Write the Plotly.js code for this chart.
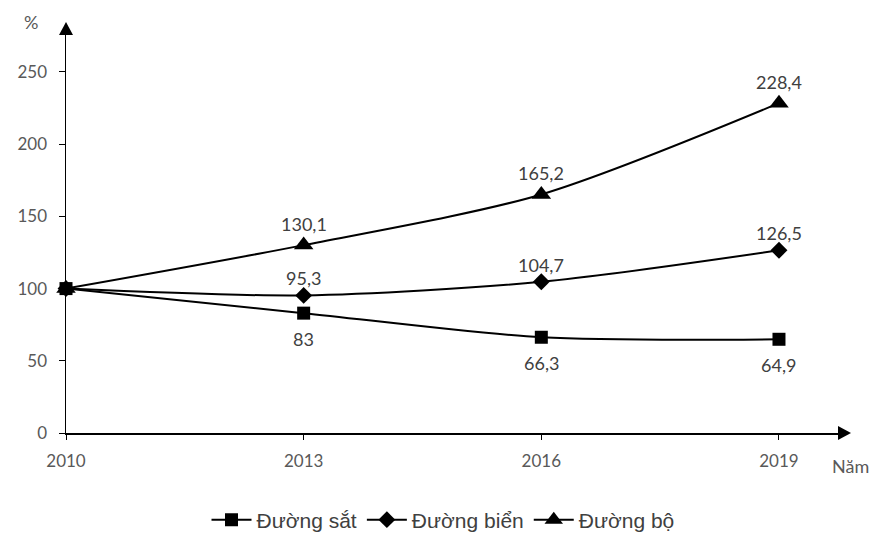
<!DOCTYPE html>
<html>
<head>
<meta charset="utf-8">
<script src="https://cdn.plot.ly/plotly-3.0.1.min.js"></script>
<style>html,body{margin:0;padding:0;background:#fff;}#chart{width:877px;height:542px;}</style>
</head>
<body>
<div id="chart"></div>
<script>
var years = [2010, 2013, 2016, 2019];
var duongSat = [100, 83, 66.3, 64.9];
var duongBien = [100, 95.3, 104.7, 126.5];
var duongBo = [100, 130.1, 165.2, 228.4];
var seriesNames = ["Đường sắt", "Đường biển", "Đường bộ"];
var yTicks = [0, 50, 100, 150, 200, 250];

var labelFont = {family: "Lato, sans-serif", size: 18, color: "#404040"};

function trace(vals, name, symbol, size) {
  return {
    x: years, y: vals, name: name, type: "scatter", mode: "lines+markers",
    line: {color: "#000", width: 2, shape: "spline", smoothing: 0.8},
    marker: {symbol: symbol, size: size, color: "#000"},
    cliponaxis: false
  };
}

function valueLabels(vals, shift) {
  var out = [];
  vals.forEach(function (v, i) {
    if (i === 0) return;
    out.push({x: years[i], y: v, xref: "x", yref: "y", text: String(v).replace(".", ","),
              showarrow: false, xanchor: "center", yanchor: "middle", yshift: shift, font: labelFont});
  });
  return out;
}

var data = [
  trace(duongSat, seriesNames[0], "square", 13),
  trace(duongBien, seriesNames[1], "diamond", 13),
  trace(duongBo, seriesNames[2], "triangle-up", 17)
];

// plot area: 772 x 398 px
var pw = 772, ph = 398;

var annotations = []
  .concat(valueLabels(duongSat, -26))
  .concat(valueLabels(duongBien, 17))
  .concat(valueLabels(duongBo, 21))
  .concat([
    {text: "%", xref: "paper", yref: "paper", x: -35 / pw, y: 1 + 13 / ph, xanchor: "center", yanchor: "middle",
     showarrow: false, font: {family: "Lato, sans-serif", size: 18, color: "#595959"}},
    {text: "Năm", xref: "paper", yref: "paper", x: 1 + 12 / pw, y: -33 / ph, xanchor: "center", yanchor: "middle",
     showarrow: false, font: {family: "Lato, sans-serif", size: 18, color: "#595959"}}
  ]);

var layout = {
  width: 877, height: 542,
  margin: {l: 66, r: 39, t: 35, b: 109, autoexpand: false},
  paper_bgcolor: "#fff", plot_bgcolor: "#fff",
  showlegend: true,
  legend: {orientation: "h", x: 0.5 - 9 / pw, xanchor: "center", y: -87 / ph, yanchor: "middle",
           font: {family: "Liberation Sans, Arial, sans-serif", size: 21, color: "#404040"},
           itemwidth: 40, traceorder: "normal"},
  xaxis: {range: [2010, 2019.745], tickvals: years, ticktext: years.map(String),
          showgrid: false, zeroline: false, showline: true, linecolor: "#000", linewidth: 1.5,
          ticks: "outside", ticklen: 5, tickcolor: "#000", ticklabelstandoff: 7,
          tickfont: {family: "Lato, sans-serif", size: 17, color: "#595959"}},
  yaxis: {range: [0, 275.6], tickvals: yTicks, showgrid: false, zeroline: false,
          showline: true, linecolor: "#000", linewidth: 1.5,
          ticks: "outside", ticklen: 6, tickcolor: "#000", ticklabelstandoff: 8,
          tickfont: {family: "Lato, sans-serif", size: 17, color: "#595959"}},
  shapes: [
    {type: "path", xref: "paper", yref: "paper",
     path: "M" + (-7 / pw) + "," + 1 + " L" + (7 / pw) + "," + 1 + " L0," + (1 + 13 / ph) + " Z",
     fillcolor: "#000", line: {width: 0}},
    {type: "path", xref: "paper", yref: "paper",
     path: "M1," + (-7 / ph) + " L1," + (7 / ph) + " L" + (1 + 13 / pw) + ",0 Z",
     fillcolor: "#000", line: {width: 0}}
  ],
  annotations: annotations
};

Plotly.newPlot("chart", data, layout, {displayModeBar: false, staticPlot: true});
</script>
</body>
</html>
